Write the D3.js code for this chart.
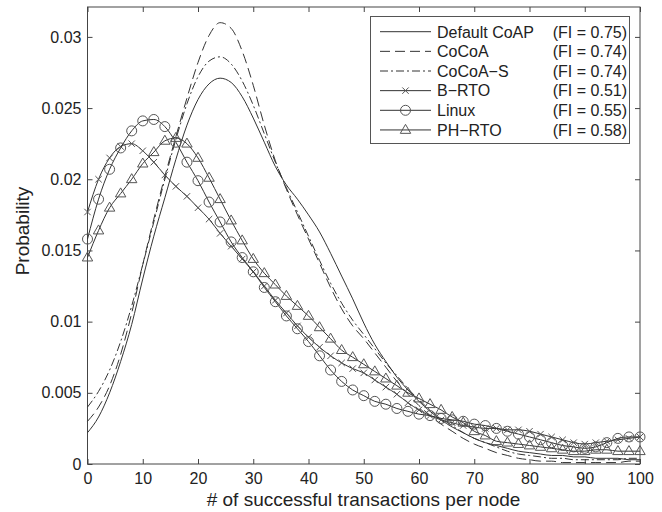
<!DOCTYPE html>
<html>
<head>
<meta charset="utf-8">
<script src="https://cdn.jsdelivr.net/npm/d3@7"></script>
<style>
  body { margin: 0; background: #fff; }
  text { font-family: "Liberation Sans", Arial, Helvetica, sans-serif; fill: #222; }
</style>
</head>
<body>
<div id="graphic"></div>
<script>
var width = 662, height = 512;

// x positions of the samples (every 2 transactions)
var xs = d3.range(0, 101, 2);

var coapValues = [0.0022,0.0033,0.0050,0.0072,0.0098,0.0130,0.0160,0.0187,0.0214,0.0238,0.0256,0.0267,0.0271,0.0268,0.0258,0.0243,0.0226,0.0209,0.0196,0.0186,0.0175,0.0163,0.0148,0.0132,0.0116,0.0099,0.0084,0.0072,0.0061,0.0052,0.0044,0.0037,0.0031,0.0026,0.0022,0.0018,0.0015,0.0013,0.0011,0.0009,0.0008,0.0007,0.0006,0.0006,0.0005,0.0005,0.0004,0.0004,0.0004,0.0003,0.0003];
var cocoaValues = [0.0030,0.0040,0.0055,0.0077,0.0106,0.0140,0.0172,0.0202,0.0230,0.0257,0.0282,0.0301,0.0310,0.0306,0.0290,0.0266,0.0238,0.0213,0.0193,0.0175,0.0158,0.0141,0.0124,0.0109,0.0097,0.0088,0.0078,0.0068,0.0058,0.0049,0.0041,0.0034,0.0028,0.0023,0.0018,0.0014,0.0011,0.0008,0.0006,0.0004,0.0003,0.0002,0.0002,0.0001,0.0001,0.0001,0.0001,0.0001,0.0001,0.0002,0.0002];
var cocoaSValues = [0.0040,0.0051,0.0066,0.0086,0.0111,0.0140,0.0170,0.0200,0.0228,0.0253,0.0272,0.0283,0.0286,0.0281,0.0269,0.0252,0.0232,0.0212,0.0194,0.0177,0.0160,0.0143,0.0127,0.0113,0.0101,0.0091,0.0081,0.0071,0.0062,0.0053,0.0045,0.0038,0.0032,0.0027,0.0022,0.0018,0.0015,0.0012,0.0009,0.0007,0.0006,0.0005,0.0004,0.0004,0.0003,0.0003,0.0003,0.0003,0.0003,0.0004,0.0004];
var brtoValues = [0.0177,0.0200,0.0215,0.0223,0.0225,0.0220,0.0212,0.0203,0.0195,0.0188,0.0180,0.0172,0.0162,0.0153,0.0144,0.0135,0.0125,0.0115,0.0106,0.0097,0.0089,0.0082,0.0076,0.0071,0.0067,0.0064,0.0059,0.0054,0.0049,0.0043,0.0038,0.0034,0.0031,0.0029,0.0027,0.0026,0.0025,0.0025,0.0024,0.0024,0.0023,0.0021,0.0019,0.0017,0.0015,0.0014,0.0015,0.0016,0.0017,0.0018,0.0019];
var linuxValues = [0.0158,0.0186,0.0207,0.0222,0.0234,0.0241,0.0242,0.0237,0.0226,0.0212,0.0199,0.0184,0.0170,0.0156,0.0145,0.0135,0.0124,0.0114,0.0104,0.0095,0.0086,0.0076,0.0066,0.0058,0.0052,0.0048,0.0044,0.0042,0.0039,0.0037,0.0035,0.0034,0.0032,0.0031,0.0030,0.0028,0.0027,0.0025,0.0023,0.0021,0.0019,0.0017,0.0015,0.0013,0.0012,0.0011,0.0012,0.0015,0.0018,0.0019,0.0019];
var phrtoValues = [0.0145,0.0164,0.0180,0.0190,0.0200,0.0211,0.0219,0.0227,0.0229,0.0225,0.0215,0.0201,0.0186,0.0171,0.0157,0.0144,0.0134,0.0126,0.0118,0.0111,0.0104,0.0096,0.0088,0.0080,0.0075,0.0070,0.0065,0.0060,0.0055,0.0050,0.0046,0.0042,0.0038,0.0033,0.0029,0.0023,0.0020,0.0016,0.0015,0.0014,0.0013,0.0012,0.0011,0.0010,0.0009,0.0009,0.0010,0.0010,0.0009,0.0009,0.0009];

var seriesNames = ["Default CoAP","CoCoA","CoCoA\u2212S","B\u2212RTO","Linux","PH\u2212RTO"];
var fiLabels = ["(FI = 0.75)","(FI = 0.74)","(FI = 0.74)","(FI = 0.51)","(FI = 0.55)","(FI = 0.58)"];
var seriesValues = [coapValues, cocoaValues, cocoaSValues, brtoValues, linuxValues, phrtoValues];
var seriesDash = [null, "10,5", "8,3,2,3", null, null, null];
var seriesMarker = [null, null, null, "cross", "circle", "triangle"];

var xTicks = d3.range(0, 101, 10);
var yTicks = [0, 0.005, 0.01, 0.015, 0.02, 0.025, 0.03];

var margin = {top: 7, right: 22, bottom: 48, left: 87.5};

var x = d3.scaleLinear().domain([0, 100]).range([margin.left, width - margin.right]);
var y = d3.scaleLinear().domain([0, 0.0321]).range([height - margin.bottom, margin.top]);

var svg = d3.select("#graphic").append("svg")
  .attr("width", width)
  .attr("height", height);

var lineColor = "#333";
var markColor = "#555";

function markerPath(type) {
  if (type == "cross") return "M-3.2,-3.2L3.2,3.2M-3.2,3.2L3.2,-3.2";
  if (type == "triangle") return "M0,-5.6L5.2,3.4L-5.2,3.4Z";
  return null;
}

function drawMarker(g, type, cx, cy) {
  if (type == "circle") {
    g.append("circle")
      .attr("cx", cx).attr("cy", cy).attr("r", 5)
      .attr("fill", "none").attr("stroke", markColor).attr("stroke-width", 1);
  } else {
    g.append("path")
      .attr("d", markerPath(type))
      .attr("transform", "translate(" + cx + "," + cy + ")")
      .attr("fill", "none").attr("stroke", markColor).attr("stroke-width", 1);
  }
}

// axes (box style with inward ticks on all four sides)
var xAxisB = d3.axisBottom(x).tickValues(xTicks).tickSizeInner(-5).tickSizeOuter(0).tickPadding(9).tickFormat(d3.format("d"));
var xAxisT = d3.axisTop(x).tickValues(xTicks).tickSizeInner(-5).tickSizeOuter(0).tickFormat("");
var yAxisL = d3.axisLeft(y).tickValues(yTicks).tickSizeInner(-5).tickSizeOuter(0).tickPadding(6).tickFormat(function(d) { return d === 0 ? "0" : d3.format("")(+d.toFixed(3)); });
var yAxisR = d3.axisRight(y).tickValues(yTicks).tickSizeInner(-5).tickSizeOuter(0).tickFormat("");

function styleAxis(g) {
  g.select(".domain").remove();
  g.selectAll(".tick line").attr("stroke", "#444");
  g.selectAll(".tick text").attr("fill", "#222").style("font-size", "16px").style("font-family", "'Liberation Sans', Arial, sans-serif");
}

svg.append("g").attr("transform", "translate(0," + y(0) + ")").call(xAxisB).call(styleAxis);
svg.append("g").attr("transform", "translate(0," + y.range()[1] + ")").call(xAxisT).call(styleAxis);
svg.append("g").attr("transform", "translate(" + x(0) + ",0)").call(yAxisL).call(styleAxis);
svg.append("g").attr("transform", "translate(" + x(100) + ",0)").call(yAxisR).call(styleAxis);

svg.append("rect")
  .attr("x", x(0)).attr("y", y.range()[1])
  .attr("width", x(100) - x(0)).attr("height", y(0) - y.range()[1])
  .attr("fill", "none").attr("stroke", "#444").attr("stroke-width", 1);

var line = d3.line()
  .x(function(d) { return x(d[0]); })
  .y(function(d) { return y(d[1]); })
  .curve(d3.curveMonotoneX);

var plot = svg.append("g");

seriesValues.forEach(function(vals, i) {
  var pts = xs.map(function(xv, j) { return [xv, vals[j]]; });
  plot.append("path")
    .datum(pts)
    .attr("d", line)
    .attr("fill", "none")
    .attr("stroke", lineColor)
    .attr("stroke-width", 1)
    .attr("stroke-dasharray", seriesDash[i]);
  if (seriesMarker[i]) {
    var mg = plot.append("g");
    pts.forEach(function(p) {
      drawMarker(mg, seriesMarker[i], x(p[0]), y(p[1]));
    });
  }
});

// legend
var legend = svg.append("g");
legend.append("rect")
  .attr("x", 370.5).attr("y", 16.5)
  .attr("width", 259).attr("height", 127)
  .attr("fill", "#fff").attr("stroke", "#555").attr("stroke-width", 1);

seriesNames.forEach(function(name, i) {
  var cy = 31.7 + i * 19.65;
  legend.append("line")
    .attr("x1", 380).attr("x2", 431)
    .attr("y1", cy).attr("y2", cy)
    .attr("stroke", lineColor).attr("stroke-width", 1)
    .attr("stroke-dasharray", seriesDash[i]);
  if (seriesMarker[i]) drawMarker(legend, seriesMarker[i], 405.5, cy);
  legend.append("text")
    .attr("x", 437).attr("y", cy + 5.8)
    .style("font-size", "16px")
    .text(name);
  legend.append("text")
    .attr("x", 627).attr("y", cy + 5.8)
    .attr("text-anchor", "end")
    .style("font-size", "16px")
    .text(fiLabels[i]);
});

// axis titles
svg.append("text")
  .attr("x", 363.5).attr("y", 506)
  .attr("text-anchor", "middle")
  .style("font-size", "19px")
  .text("# of successful transactions per node");

svg.append("text")
  .attr("transform", "translate(29,231) rotate(-90)")
  .attr("text-anchor", "middle")
  .style("font-size", "19px")
  .text("Probability");
</script>
</body>
</html>
